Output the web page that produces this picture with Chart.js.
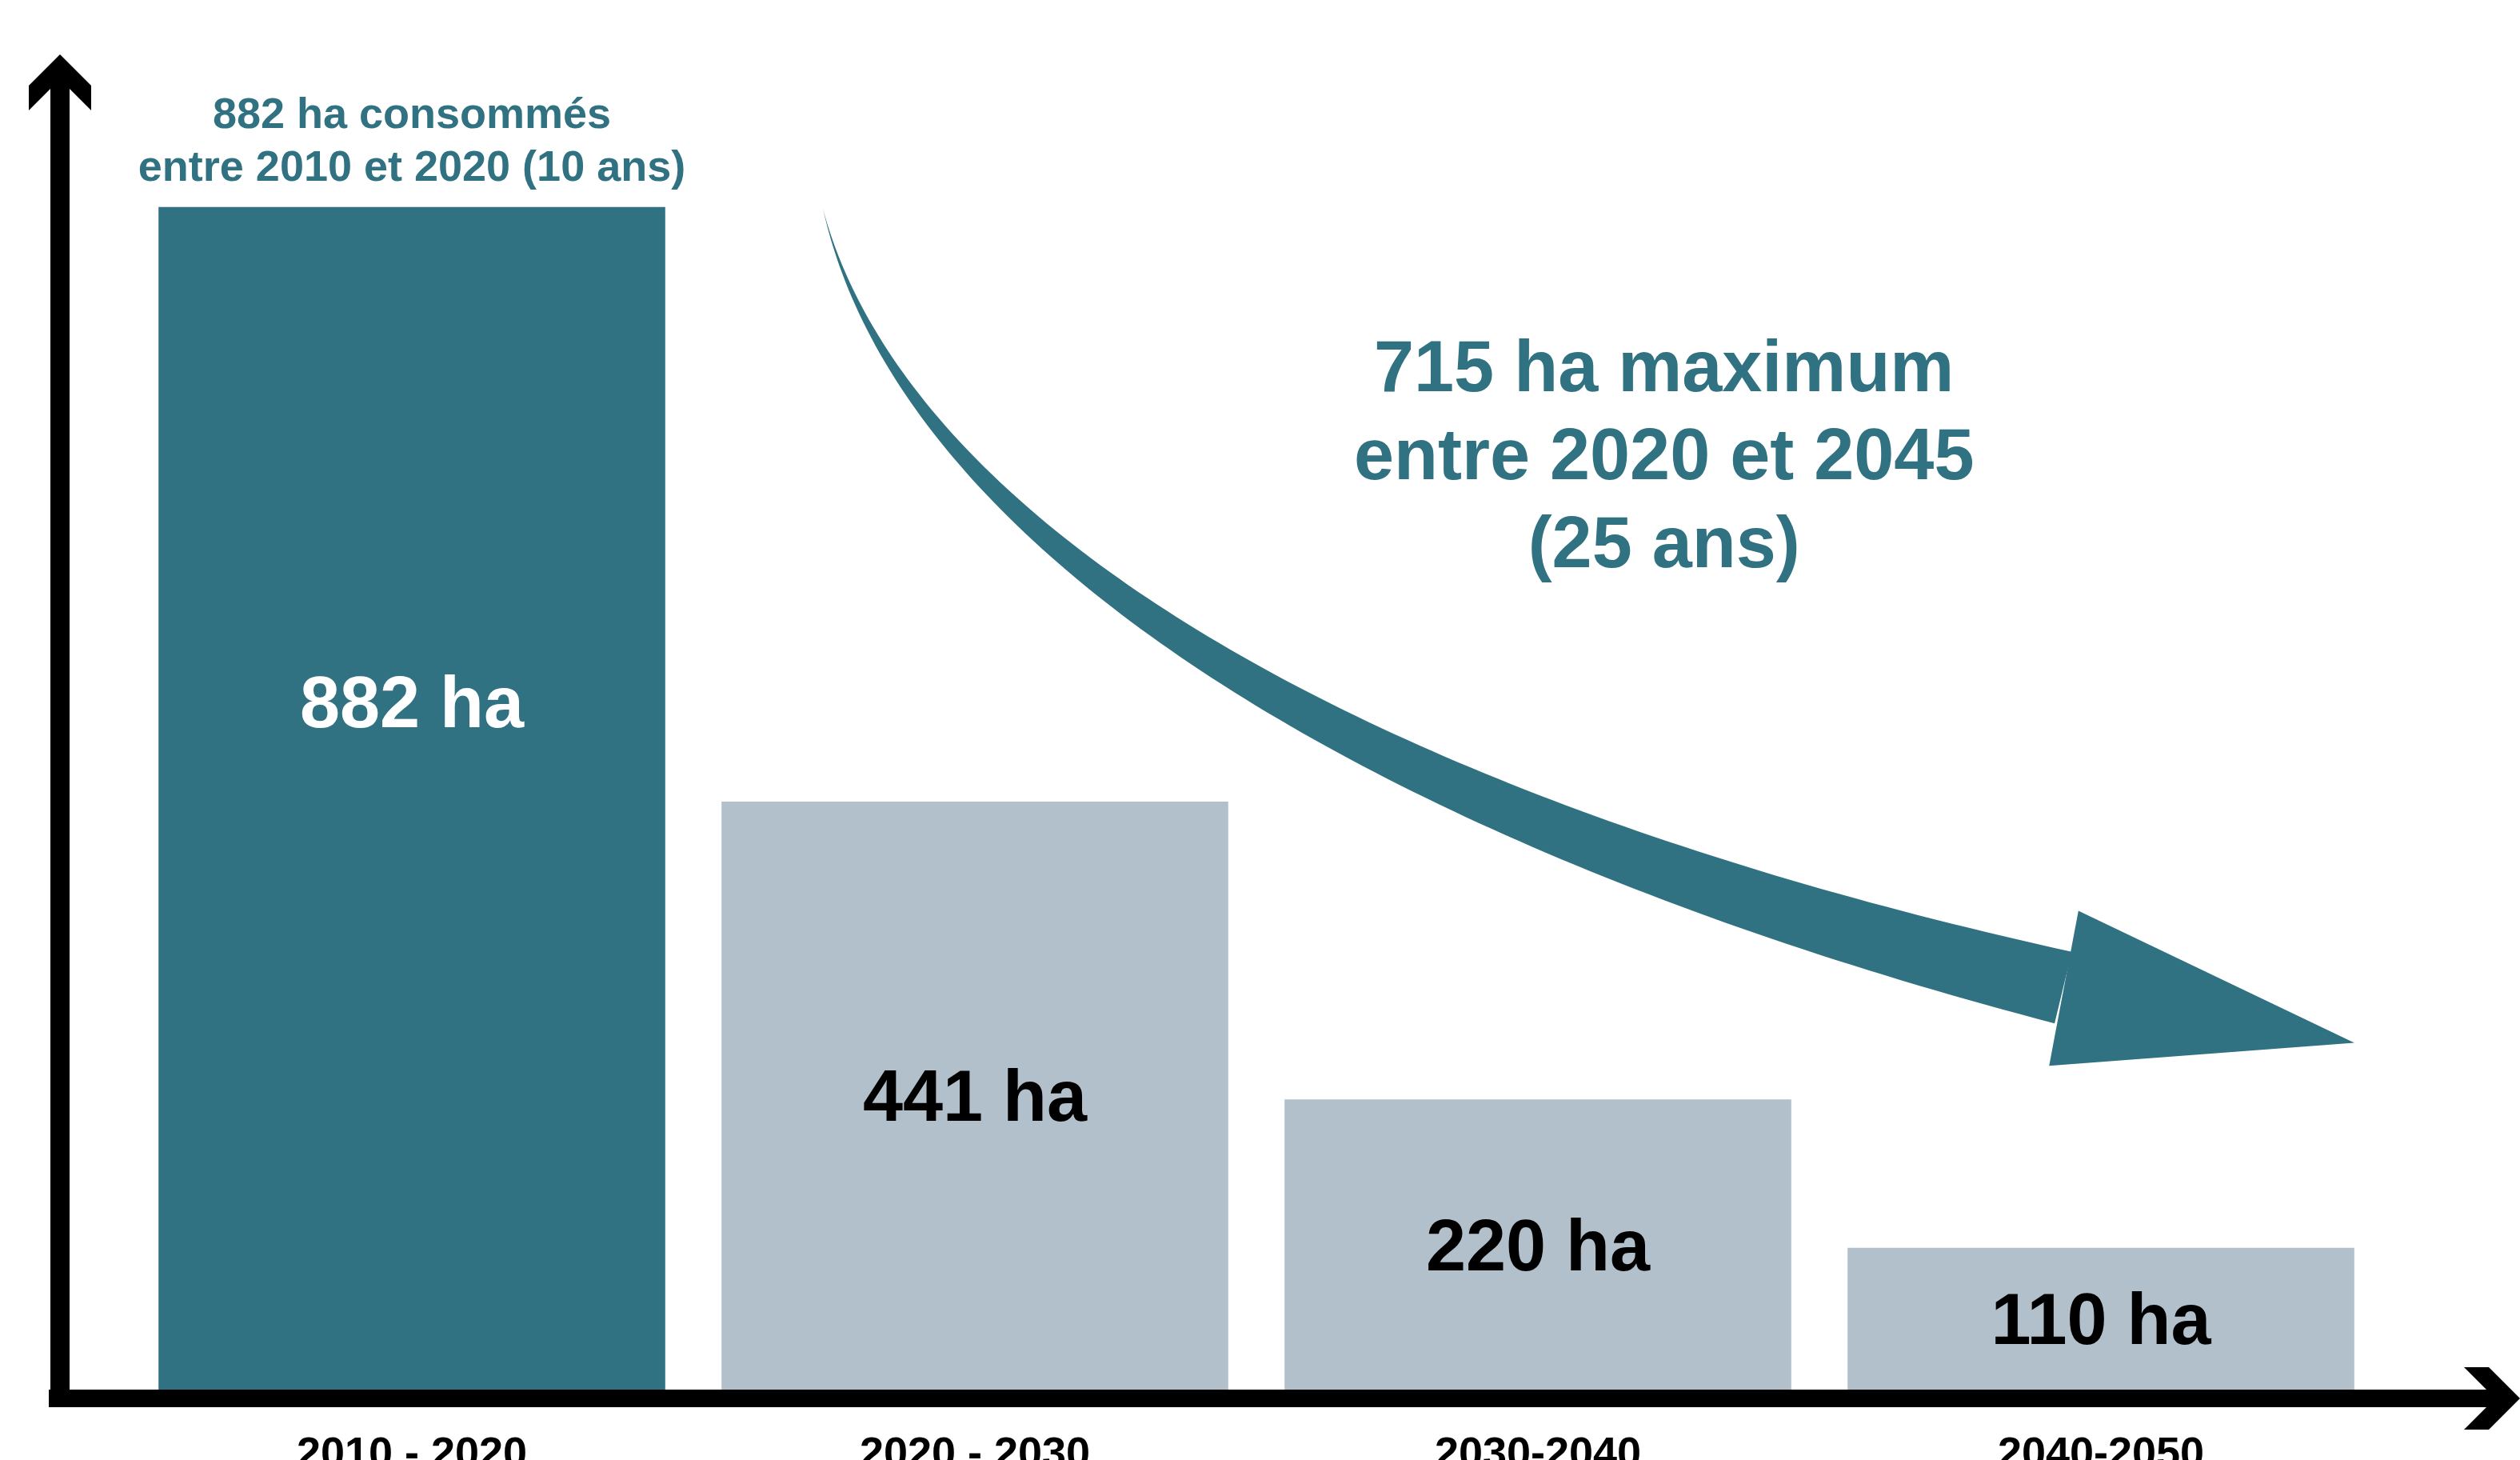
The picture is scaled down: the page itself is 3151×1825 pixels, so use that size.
<!DOCTYPE html>
<html>
<head>
<meta charset="utf-8">
<script src="https://cdn.jsdelivr.net/npm/chart.js@4.4.1/dist/chart.umd.min.js"></script>
<style>
  html, body { margin: 0; padding: 0; background: #fff; overflow: hidden; }
  canvas { display: block; }
</style>
</head>
<body>
<canvas id="consoChart" width="3151" height="1825"></canvas>
<script>
//data//
const periods = ['2010 - 2020', '2020 - 2030', '2030-2040', '2040-2050'];
const hectares = [882, 441, 220, 110];
const barLabels = ['882 ha', '441 ha', '220 ha', '110 ha'];
const pastNote = ['882 ha consommés', 'entre 2010 et 2020 (10 ans)'];
const targetNote = ['715 ha maximum', 'entre 2020 et 2045', '(25 ans)'];
// trend arrow, as [category index, ha]
const arrowCurve = [[0.73, 881], [0.871, 639], [1.69, 428], [2.933, 303]];
const arrowHead = [[2.96, 360], [3.45, 262], [2.908, 245]];
const noteAnchor = [2.224, 680];

//styles//
const TEAL = '#317282';
const GREY = '#b2c0cb';
const FONT = '"Liberation Sans", Arial, sans-serif';
const barColors = [TEAL, GREY, GREY, GREY];
const labelColors = ['#ffffff', '#000000', '#000000', '#000000'];
const labelShift = [-121, 0, 0, 0];

Chart.register({
  id: 'decorPlugin',
  afterDatasetsDraw(chart) {
    const ctx = chart.ctx;
    const area = chart.chartArea;
    const xs = chart.scales.x;
    const ys = chart.scales.y;
    const toPx = p => [xs.getPixelForValue(p[0]), ys.getPixelForValue(p[1])];
    const bars = chart.getDatasetMeta(0).data;

    ctx.save();

    // tapered curved arrow
    const P = arrowCurve.map(toPx);
    const bez = (t, k) => {
      const u = 1 - t;
      return u*u*u*P[0][k] + 3*u*u*t*P[1][k] + 3*u*t*t*P[2][k] + t*t*t*P[3][k];
    };
    const der = (t, k) => {
      const u = 1 - t;
      return 3*u*u*(P[1][k]-P[0][k]) + 6*u*t*(P[2][k]-P[1][k]) + 3*t*t*(P[3][k]-P[2][k]);
    };
    const upper = [], lower = [];
    const steps = 120;
    for (let i = 0; i <= steps; i++) {
      const t = i / steps;
      const x = bez(t, 0), y = bez(t, 1);
      const dx = der(t, 0), dy = der(t, 1);
      const len = Math.hypot(dx, dy) || 1;
      const nx = -dy / len, ny = dx / len;
      const w = 92 * Math.pow(t, 1.15) / 2;
      upper.push([x - nx * w, y - ny * w]);
      lower.push([x + nx * w, y + ny * w]);
    }
    ctx.fillStyle = TEAL;
    ctx.beginPath();
    ctx.moveTo(upper[0][0], upper[0][1]);
    upper.forEach(p => ctx.lineTo(p[0], p[1]));
    lower.reverse().forEach(p => ctx.lineTo(p[0], p[1]));
    ctx.closePath();
    ctx.fill();

    const H = arrowHead.map(toPx);
    ctx.beginPath();
    ctx.moveTo(H[0][0], H[0][1]);
    ctx.lineTo(H[1][0], H[1][1]);
    ctx.lineTo(H[2][0], H[2][1]);
    ctx.closePath();
    ctx.fill();

    // axes with open arrow heads
    const ax = area.left - 88;
    const ay = area.bottom + 3;
    ctx.fillStyle = '#000';
    ctx.fillRect(ax - 12, 105, 24, ay + 11 - 105);
    ctx.beginPath();
    ctx.moveTo(ax, 68);
    ctx.lineTo(ax + 39, 107);
    ctx.lineTo(ax + 39, 138);
    ctx.lineTo(ax + 12, 111);
    ctx.lineTo(ax - 12, 111);
    ctx.lineTo(ax - 39, 138);
    ctx.lineTo(ax - 39, 107);
    ctx.closePath();
    ctx.fill();

    const tipX = chart.width;
    ctx.fillRect(ax - 14, ay - 11, tipX - 42 - (ax - 14), 22);
    ctx.beginPath();
    ctx.moveTo(tipX, ay);
    ctx.lineTo(tipX - 39, ay - 39);
    ctx.lineTo(tipX - 70, ay - 39);
    ctx.lineTo(tipX - 42, ay - 11);
    ctx.lineTo(tipX - 42, ay + 11);
    ctx.lineTo(tipX - 70, ay + 39);
    ctx.lineTo(tipX - 39, ay + 39);
    ctx.closePath();
    ctx.fill();

    // value labels inside the bars
    ctx.textAlign = 'center';
    ctx.textBaseline = 'alphabetic';
    ctx.font = `bold 90px ${FONT}`;
    bars.forEach((bar, i) => {
      const mid = (bar.y + area.bottom - 8) / 2;
      ctx.fillStyle = labelColors[i];
      ctx.fillText(barLabels[i], bar.x, mid + 32 + labelShift[i]);
    });

    // note above the first bar
    ctx.fillStyle = TEAL;
    ctx.font = `bold 54px ${FONT}`;
    pastNote.forEach((line, i) => {
      ctx.fillText(line, bars[0].x, bars[0].y - 99 + i * 66);
    });

    // note next to the arrow
    const [nx, ny] = toPx(noteAnchor);
    ctx.font = `bold 90px ${FONT}`;
    targetNote.forEach((line, i) => {
      ctx.fillText(line, nx, ny + (i - 1) * 110);
    });

    ctx.restore();
  }
});

const consoCtx = document.getElementById('consoChart').getContext('2d');
const consoChart = new Chart(consoCtx, {
  type: 'bar',
  data: {
    labels: periods,
    datasets: [{
      data: hectares,
      backgroundColor: barColors,
      borderWidth: 0,
      barPercentage: 0.9,
      categoryPercentage: 1.0
    }]
  },
  options: {
    responsive: false,
    devicePixelRatio: 1,
    animation: false,
    layout: {
      padding: { left: 163, right: 172, top: 60, bottom: 0 }
    },
    plugins: {
      legend: { display: false },
      tooltip: { enabled: false }
    },
    scales: {
      x: {
        grid: { display: false, drawTicks: false },
        border: { display: false },
        ticks: {
          color: '#000',
          padding: 42,
          maxRotation: 0,
          font: { family: FONT, size: 54, weight: 'bold' }
        },
        afterFit(scale) { scale.height = 80; }
      },
      y: {
        display: false,
        min: 0,
        max: 1000
      }
    }
  }
});
</script>
</body>
</html>
